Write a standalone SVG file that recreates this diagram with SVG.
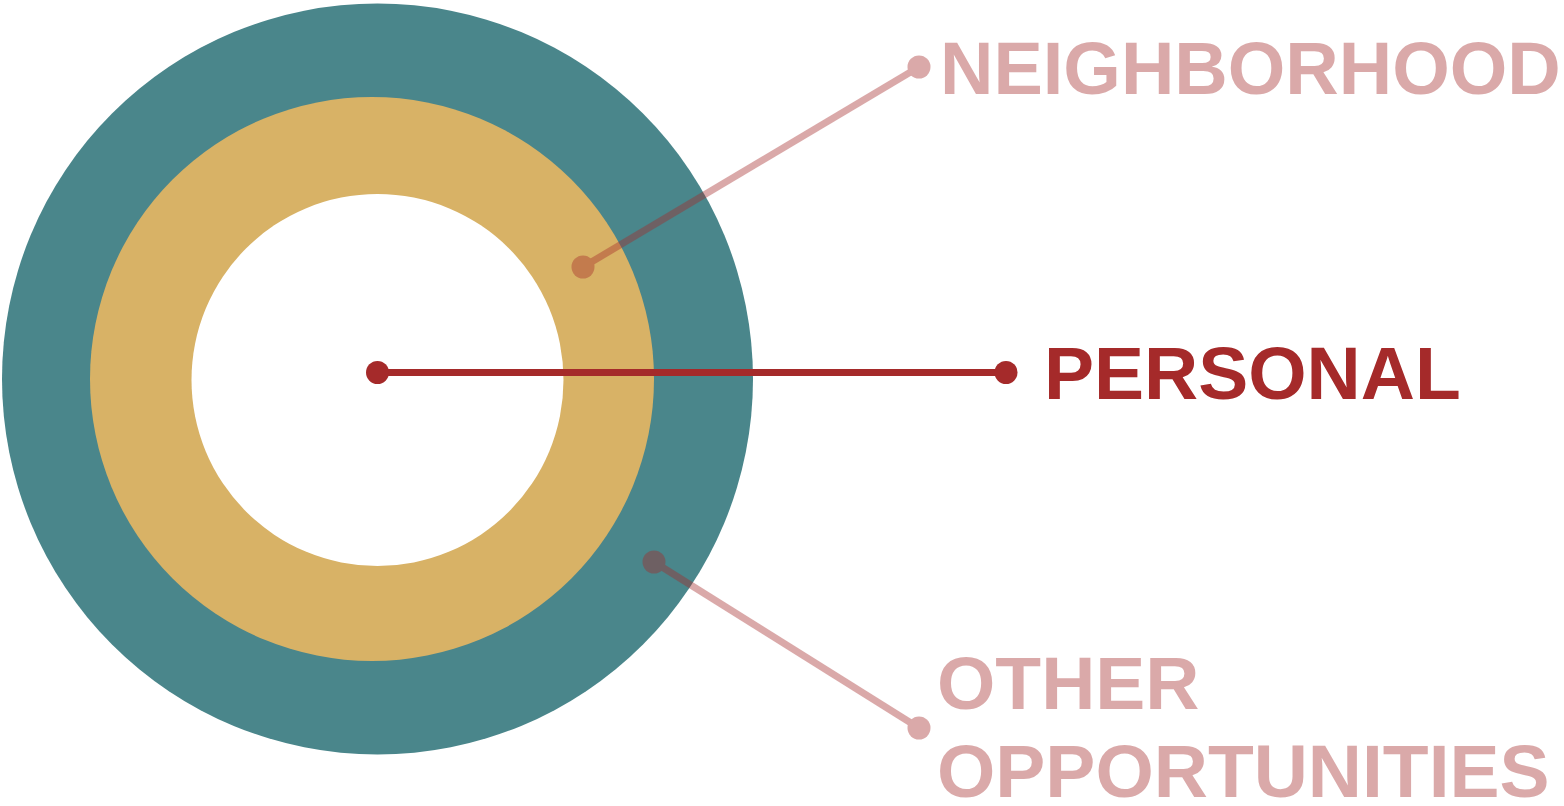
<svg xmlns="http://www.w3.org/2000/svg" width="1564" height="806" viewBox="0 0 1564 806">
<style>
.lbl{font-family:"Liberation Sans",Arial,sans-serif;font-weight:bold;font-size:75px;fill:#A52A2A}
.faint{opacity:0.4}
.ln{stroke:#A52A2A;stroke-width:7;fill:none}
.dot{fill:#A52A2A}
</style>
<rect width="1564" height="806" fill="#ffffff"/>
<g id="rings">
<circle id="outer" cx="377.5" cy="379" r="375.5" fill="#4A868B"/>
<circle id="middle" cx="372" cy="379" r="282" fill="#D8B266"/>
<circle id="inner" cx="377.5" cy="380" r="186" fill="#ffffff"/>
</g>
<g id="connectors">
<g id="conn-neighborhood" class="faint">
<line class="ln" x1="583" y1="267" x2="919" y2="67"/>
<circle class="dot" cx="583" cy="267" r="11.5"/>
<circle class="dot" cx="919" cy="67" r="11.5"/>
</g>
<g id="conn-personal">
<line class="ln" x1="377.5" y1="372.5" x2="1006" y2="372.5"/>
<circle class="dot" cx="377.5" cy="372.5" r="11.5"/>
<circle class="dot" cx="1006" cy="372.5" r="11.5"/>
</g>
<g id="conn-other" class="faint">
<line class="ln" x1="654" y1="562" x2="919" y2="728"/>
<circle class="dot" cx="654" cy="562" r="11.5"/>
<circle class="dot" cx="919" cy="728" r="11.5"/>
</g>
</g>
<g id="label-neighborhood" class="faint"><text class="lbl" x="940" y="94" style="font-size:74px">NEIGHBORHOOD</text></g>
<g id="label-personal"><text class="lbl" x="1044" y="399">PERSONAL</text></g>
<g id="label-other" class="faint"><text class="lbl" x="937" y="709">OTHER</text><text class="lbl" x="937" y="797">OPPORTUNITIES</text></g>
</svg>
